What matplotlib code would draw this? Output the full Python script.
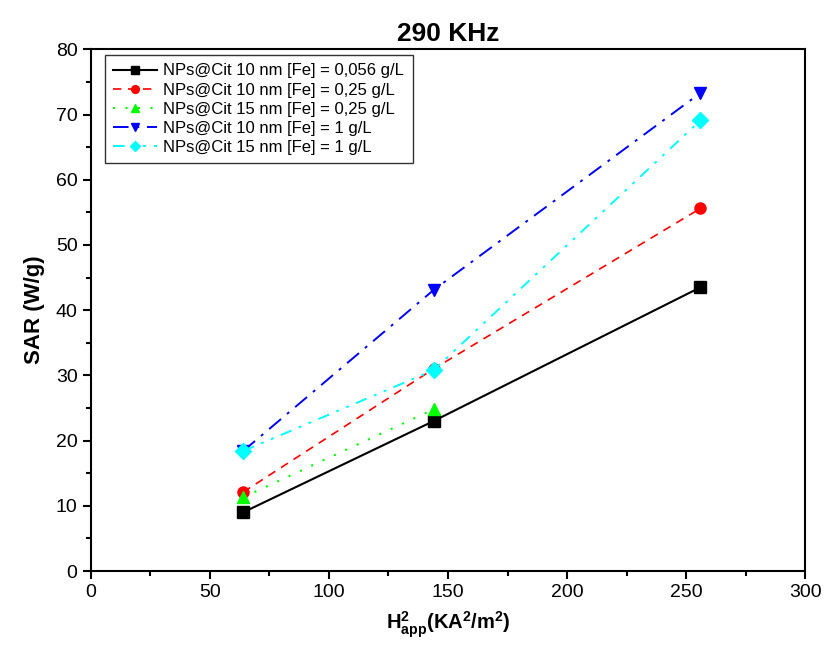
import matplotlib
matplotlib.use("Agg")
import matplotlib.pyplot as plt
from matplotlib.ticker import MultipleLocator

plt.rcParams['font.family'] = ['Liberation Sans', 'DejaVu Sans']
plt.rcParams['mathtext.fontset'] = 'custom'
plt.rcParams['mathtext.rm'] = 'Liberation Sans'
plt.rcParams['mathtext.bf'] = 'Liberation Sans:bold'

# data
h2 = [64, 144, 256]
sar_10nm_0056 = [9.0, 23.0, 43.5]
sar_10nm_025 = [12.1, 31.0, 55.6]
h2_15nm_025 = [64, 144]
sar_15nm_025 = [11.3, 24.8]
sar_10nm_1 = [18.4, 43.1, 73.3]
sar_15nm_1 = [18.4, 30.8, 69.1]

labels = [
    "NPs@Cit 10 nm [Fe] = 0,056 g/L",
    "NPs@Cit 10 nm [Fe] = 0,25 g/L",
    "NPs@Cit 15 nm [Fe] = 0,25 g/L",
    "NPs@Cit 10 nm [Fe] = 1 g/L",
    "NPs@Cit 15 nm [Fe] = 1 g/L",
]

fig = plt.figure(figsize=(8.25, 6.66), dpi=100)
ax = fig.add_axes([0.110, 0.1426, 0.866, 0.7834])

ax.plot(h2, sar_10nm_0056, color='black', ls='-', lw=1.5, marker='s', ms=8, label=labels[0])
ax.plot(h2, sar_10nm_025, color='red', ls=(0, (5, 4)), lw=1.2, marker='o', ms=8, label=labels[1])
ax.plot(h2_15nm_025, sar_15nm_025, color='#00ff00', ls=(0, (1, 5)), lw=1.5, marker='^', ms=9, label=labels[2])
ax.plot(h2, sar_10nm_1, color='#0000ff', ls=(0, (8, 4, 1.5, 4)), lw=1.4, marker='v', ms=9, label=labels[3])
ax.plot(h2, sar_15nm_1, color='cyan', ls=(0, (6, 4, 1.5, 4, 1.5, 4)), lw=1.4, marker='D', ms=8, label=labels[4])

ax.set_xlim(0, 300)
ax.set_ylim(0, 80)
ax.xaxis.set_major_locator(MultipleLocator(50))
ax.xaxis.set_minor_locator(MultipleLocator(25))
ax.yaxis.set_major_locator(MultipleLocator(10))
ax.yaxis.set_minor_locator(MultipleLocator(5))
ax.tick_params(which='major', direction='out', length=6, width=1.5, labelsize=14)
ax.tick_params(which='minor', direction='out', length=3.5, width=1.5)
for s in ax.spines.values():
    s.set_linewidth(1.5)

ax.set_title("290 KHz", fontsize=19, fontweight='bold', pad=6)
ax.set_ylabel("SAR (W/g)", fontsize=16, fontweight='bold', labelpad=8)
ax.set_xlabel(r"$\mathbf{H_{app}^{2}(KA^{2}/m^{2})}$", fontsize=14.5, labelpad=6)

leg = ax.legend(loc='upper left', bbox_to_anchor=(0.02, 0.989), borderaxespad=0,
                fontsize=12, markerscale=0.7, frameon=True, fancybox=False,
                handlelength=2.6, borderpad=0.5, labelspacing=0.25,
                handletextpad=0.4)
leg.get_frame().set_edgecolor('black')
leg.get_frame().set_linewidth(1.0)

fig.savefig("out.png", dpi=100)
